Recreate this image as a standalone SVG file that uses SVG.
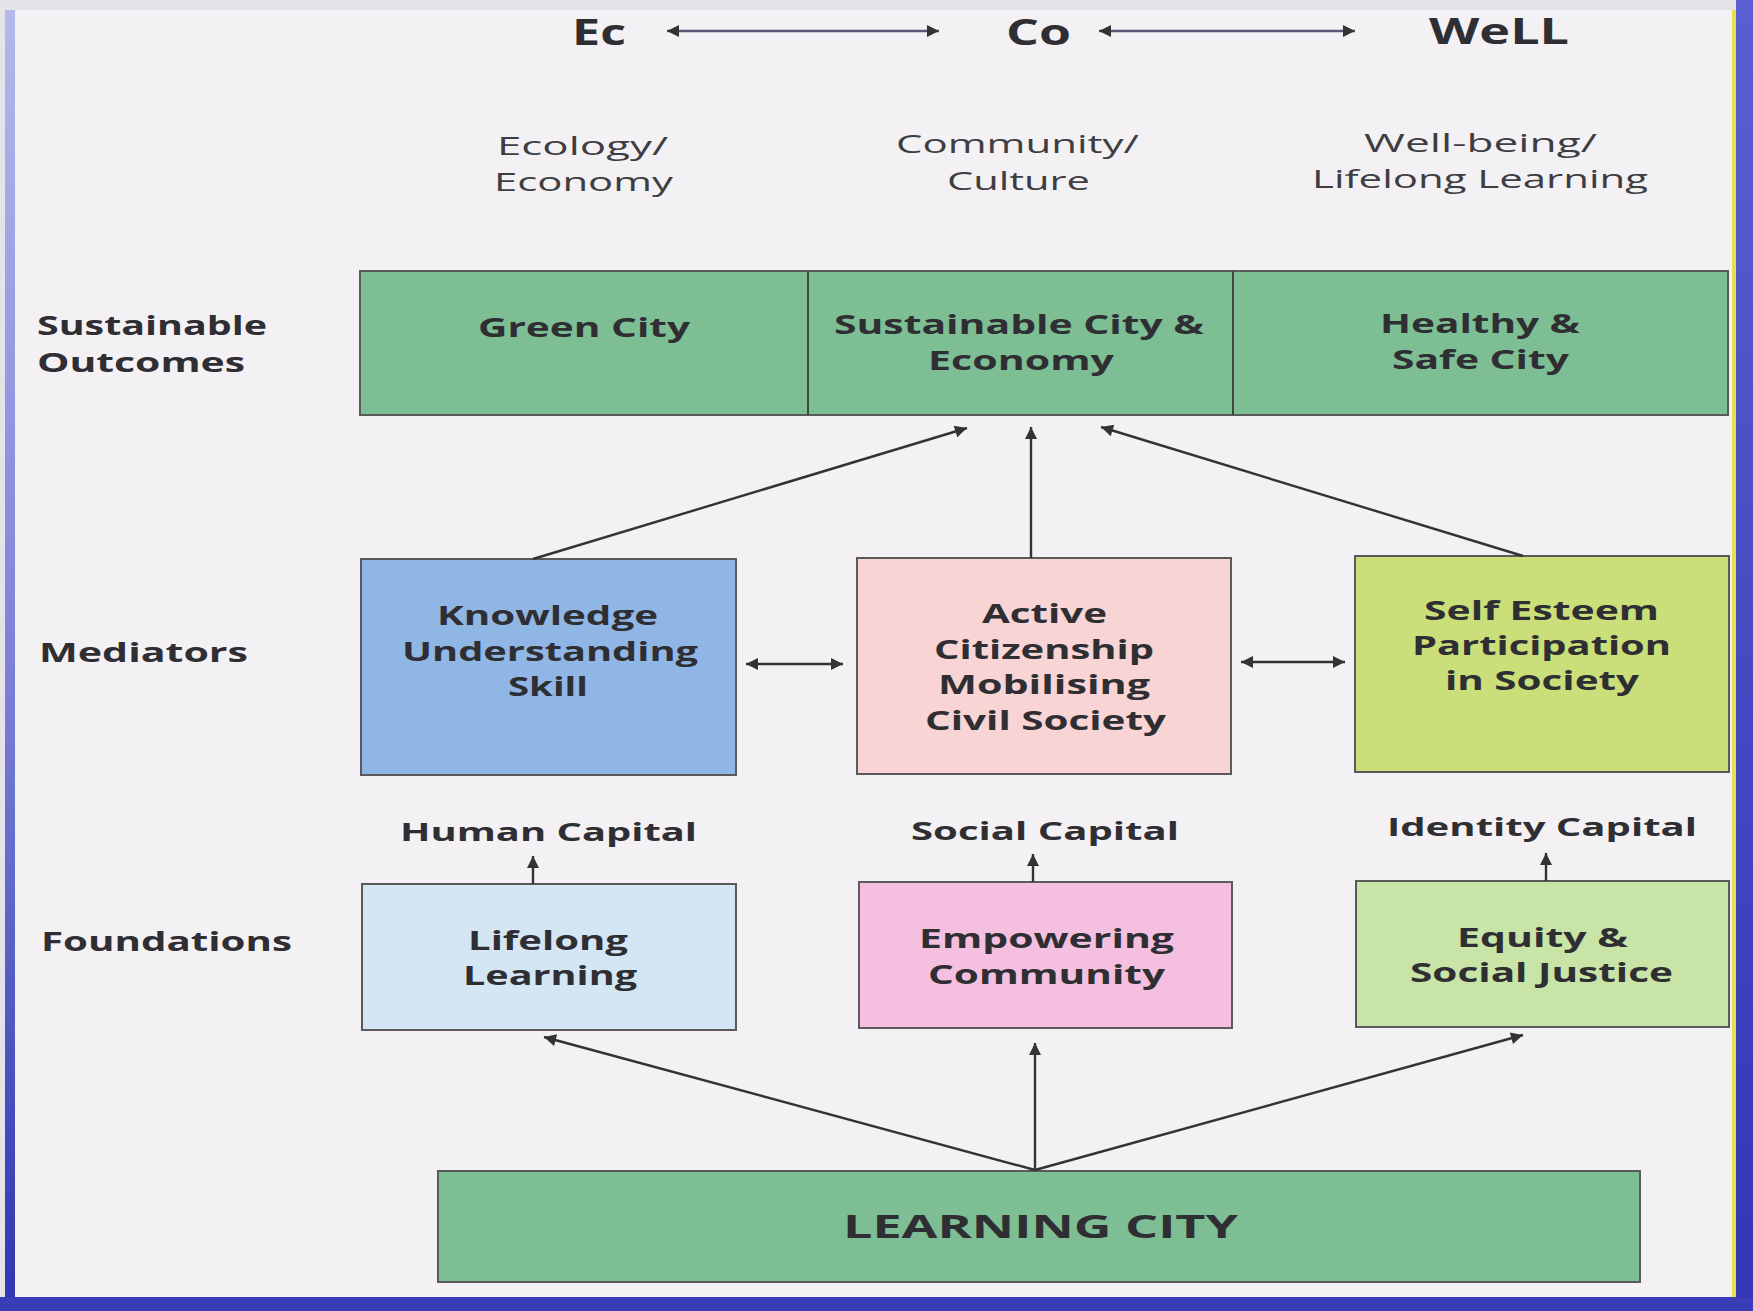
<svg xmlns="http://www.w3.org/2000/svg" width="1753" height="1311" viewBox="0 0 1753 1311">
<defs>
<style>
.t{font-family:"Open Sans","Liberation Sans",sans-serif;font-weight:700;fill:#2f2f33}
.r{font-family:"Open Sans","Liberation Sans",sans-serif;font-weight:400;fill:#3e3e42}
.box{stroke:#5a5a5a;stroke-width:2}
.con{stroke:#333;stroke-width:2.4;fill:none}
.top{stroke:#5b5470;stroke-width:2.6;fill:none}
</style>
<marker id="ah" viewBox="0 0 10 10" refX="10" refY="5" markerUnits="userSpaceOnUse" markerWidth="17" markerHeight="12" orient="auto-start-reverse">
<path d="M0,0 L10,5 L0,10 z" fill="#333"/>
</marker>
<linearGradient id="lg" x1="0" y1="0" x2="0" y2="1">
<stop offset="0" stop-color="#b4b8ec"/>
<stop offset="0.5" stop-color="#7d82d8"/>
<stop offset="1" stop-color="#3034b0"/>
</linearGradient>
<linearGradient id="rg" x1="0" y1="0" x2="0" y2="1">
<stop offset="0" stop-color="#5a5fd0"/>
<stop offset="1" stop-color="#3236b4"/>
</linearGradient>
</defs>

<g id="frame">
<rect x="0" y="0" width="1753" height="1311" fill="#e4e3e7"/>
<rect x="15" y="10" width="1717" height="1287" fill="#f4f1f5"/>
<rect x="5" y="10" width="10" height="1301" fill="url(#lg)"/>
<rect x="1732" y="10" width="4" height="1287" fill="#e8e04a"/>
<rect x="1736" y="0" width="17" height="1311" fill="url(#rg)"/>
<rect x="0" y="1297" width="1753" height="14" fill="#3a3db8"/>
</g>

<g id="header">
<text class="t" x="572" y="45" font-size="35" textLength="54" lengthAdjust="spacingAndGlyphs">Ec</text>
<text class="t" x="1006" y="45" font-size="35" textLength="65" lengthAdjust="spacingAndGlyphs">Co</text>
<text class="t" x="1429" y="44" font-size="35" textLength="140" lengthAdjust="spacingAndGlyphs">WeLL</text>
<text class="r" x="497" y="155" font-size="25" textLength="171" lengthAdjust="spacingAndGlyphs">Ecology/</text>
<text class="r" x="494" y="191" font-size="25" textLength="179" lengthAdjust="spacingAndGlyphs">Economy</text>
<text class="r" x="896" y="153" font-size="25" textLength="243" lengthAdjust="spacingAndGlyphs">Community/</text>
<text class="r" x="947" y="190" font-size="25" textLength="143" lengthAdjust="spacingAndGlyphs">Culture</text>
<text class="r" x="1364" y="152" font-size="25" textLength="233" lengthAdjust="spacingAndGlyphs">Well-being/</text>
<text class="r" x="1312" y="188" font-size="25" textLength="336" lengthAdjust="spacingAndGlyphs">Lifelong Learning</text>
</g>

<g id="row-labels">
<text class="t" x="37" y="335" font-size="27" textLength="230" lengthAdjust="spacingAndGlyphs">Sustainable</text>
<text class="t" x="37" y="372" font-size="27" textLength="208" lengthAdjust="spacingAndGlyphs">Outcomes</text>
<text class="t" x="39" y="662" font-size="27" textLength="209" lengthAdjust="spacingAndGlyphs">Mediators</text>
<text class="t" x="41" y="951" font-size="27" textLength="251" lengthAdjust="spacingAndGlyphs">Foundations</text>
</g>

<g id="outcomes">
<rect class="box" x="360" y="271" width="1368" height="144" fill="#7dbe95"/>
<line x1="808" y1="271" x2="808" y2="415" stroke="#444" stroke-width="2"/>
<line x1="1233" y1="271" x2="1233" y2="415" stroke="#444" stroke-width="2"/>
</g>
<g id="green-city">
<text class="t" x="478" y="337" font-size="27" textLength="212" lengthAdjust="spacingAndGlyphs">Green City</text>
</g>
<g id="sustainable-city">
<text class="t" x="834" y="334" font-size="27" textLength="370" lengthAdjust="spacingAndGlyphs">Sustainable City &amp;</text>
<text class="t" x="928" y="370" font-size="27" textLength="186" lengthAdjust="spacingAndGlyphs">Economy</text>
</g>
<g id="healthy-city">
<text class="t" x="1380" y="333" font-size="27" textLength="200" lengthAdjust="spacingAndGlyphs">Healthy &amp;</text>
<text class="t" x="1392" y="369" font-size="27" textLength="177" lengthAdjust="spacingAndGlyphs">Safe City</text>
</g>

<g id="knowledge">
<rect class="box" x="361" y="559" width="375" height="216" fill="#90b6e6"/>
<text class="t" x="437" y="625" font-size="27" textLength="221" lengthAdjust="spacingAndGlyphs">Knowledge</text>
<text class="t" x="402" y="661" font-size="27" textLength="296" lengthAdjust="spacingAndGlyphs">Understanding</text>
<text class="t" x="508" y="696" font-size="27" textLength="80" lengthAdjust="spacingAndGlyphs">Skill</text>
</g>
<g id="active">
<rect class="box" x="857" y="558" width="374" height="216" fill="#f8d4d5"/>
<text class="t" x="982" y="623" font-size="27" textLength="125" lengthAdjust="spacingAndGlyphs">Active</text>
<text class="t" x="934" y="659" font-size="27" textLength="220" lengthAdjust="spacingAndGlyphs">Citizenship</text>
<text class="t" x="938" y="694" font-size="27" textLength="212" lengthAdjust="spacingAndGlyphs">Mobilising</text>
<text class="t" x="925" y="730" font-size="27" textLength="241" lengthAdjust="spacingAndGlyphs">Civil Society</text>
</g>
<g id="self-esteem">
<rect class="box" x="1355" y="556" width="374" height="216" fill="#cade79"/>
<text class="t" x="1424" y="620" font-size="27" textLength="235" lengthAdjust="spacingAndGlyphs">Self Esteem</text>
<text class="t" x="1412" y="655" font-size="27" textLength="259" lengthAdjust="spacingAndGlyphs">Participation</text>
<text class="t" x="1445" y="690" font-size="27" textLength="194" lengthAdjust="spacingAndGlyphs">in Society</text>
</g>

<g id="human-capital">
<text class="t" x="400" y="841" font-size="25" textLength="297" lengthAdjust="spacingAndGlyphs">Human Capital</text>
</g>
<g id="social-capital">
<text class="t" x="911" y="840" font-size="25" textLength="268" lengthAdjust="spacingAndGlyphs">Social Capital</text>
</g>
<g id="identity-capital">
<text class="t" x="1387" y="836" font-size="25" textLength="310" lengthAdjust="spacingAndGlyphs">Identity Capital</text>
</g>

<g id="lifelong">
<rect class="box" x="362" y="884" width="374" height="146" fill="#d4e5f4"/>
<text class="t" x="468" y="950" font-size="27" textLength="160" lengthAdjust="spacingAndGlyphs">Lifelong</text>
<text class="t" x="463" y="985" font-size="27" textLength="174" lengthAdjust="spacingAndGlyphs">Learning</text>
</g>
<g id="empowering">
<rect class="box" x="859" y="882" width="373" height="146" fill="#f5bfe0"/>
<text class="t" x="919" y="948" font-size="27" textLength="255" lengthAdjust="spacingAndGlyphs">Empowering</text>
<text class="t" x="928" y="984" font-size="27" textLength="237" lengthAdjust="spacingAndGlyphs">Community</text>
</g>
<g id="equity">
<rect class="box" x="1356" y="881" width="373" height="146" fill="#c8e4a6"/>
<text class="t" x="1457" y="947" font-size="27" textLength="171" lengthAdjust="spacingAndGlyphs">Equity &amp;</text>
<text class="t" x="1410" y="982" font-size="27" textLength="263" lengthAdjust="spacingAndGlyphs">Social Justice</text>
</g>

<g id="learning-city">
<rect class="box" x="438" y="1171" width="1202" height="111" fill="#7dbe95"/>
<text class="t" x="843" y="1238" font-size="32" textLength="395" lengthAdjust="spacingAndGlyphs">LEARNING CITY</text>
</g>

<g id="connectors">
<line class="top" x1="667" y1="31" x2="939" y2="31" marker-start="url(#ah)" marker-end="url(#ah)"/>
<line class="top" x1="1099" y1="31" x2="1355" y2="31" marker-start="url(#ah)" marker-end="url(#ah)"/>
<line class="con" x1="533" y1="559" x2="967" y2="428" marker-end="url(#ah)"/>
<line class="con" x1="1031" y1="558" x2="1031" y2="427" marker-end="url(#ah)"/>
<line class="con" x1="1523" y1="556" x2="1101" y2="427" marker-end="url(#ah)"/>
<line class="con" x1="746" y1="664" x2="843" y2="664" marker-start="url(#ah)" marker-end="url(#ah)"/>
<line class="con" x1="1241" y1="662" x2="1345" y2="662" marker-start="url(#ah)" marker-end="url(#ah)"/>
<line class="con" x1="533" y1="884" x2="533" y2="856" marker-end="url(#ah)"/>
<line class="con" x1="1033" y1="882" x2="1033" y2="854" marker-end="url(#ah)"/>
<line class="con" x1="1546" y1="881" x2="1546" y2="853" marker-end="url(#ah)"/>
<line class="con" x1="1035" y1="1170" x2="544" y2="1037" marker-end="url(#ah)"/>
<line class="con" x1="1035" y1="1170" x2="1035" y2="1043" marker-end="url(#ah)"/>
<line class="con" x1="1035" y1="1170" x2="1523" y2="1035" marker-end="url(#ah)"/>
</g>
</svg>
